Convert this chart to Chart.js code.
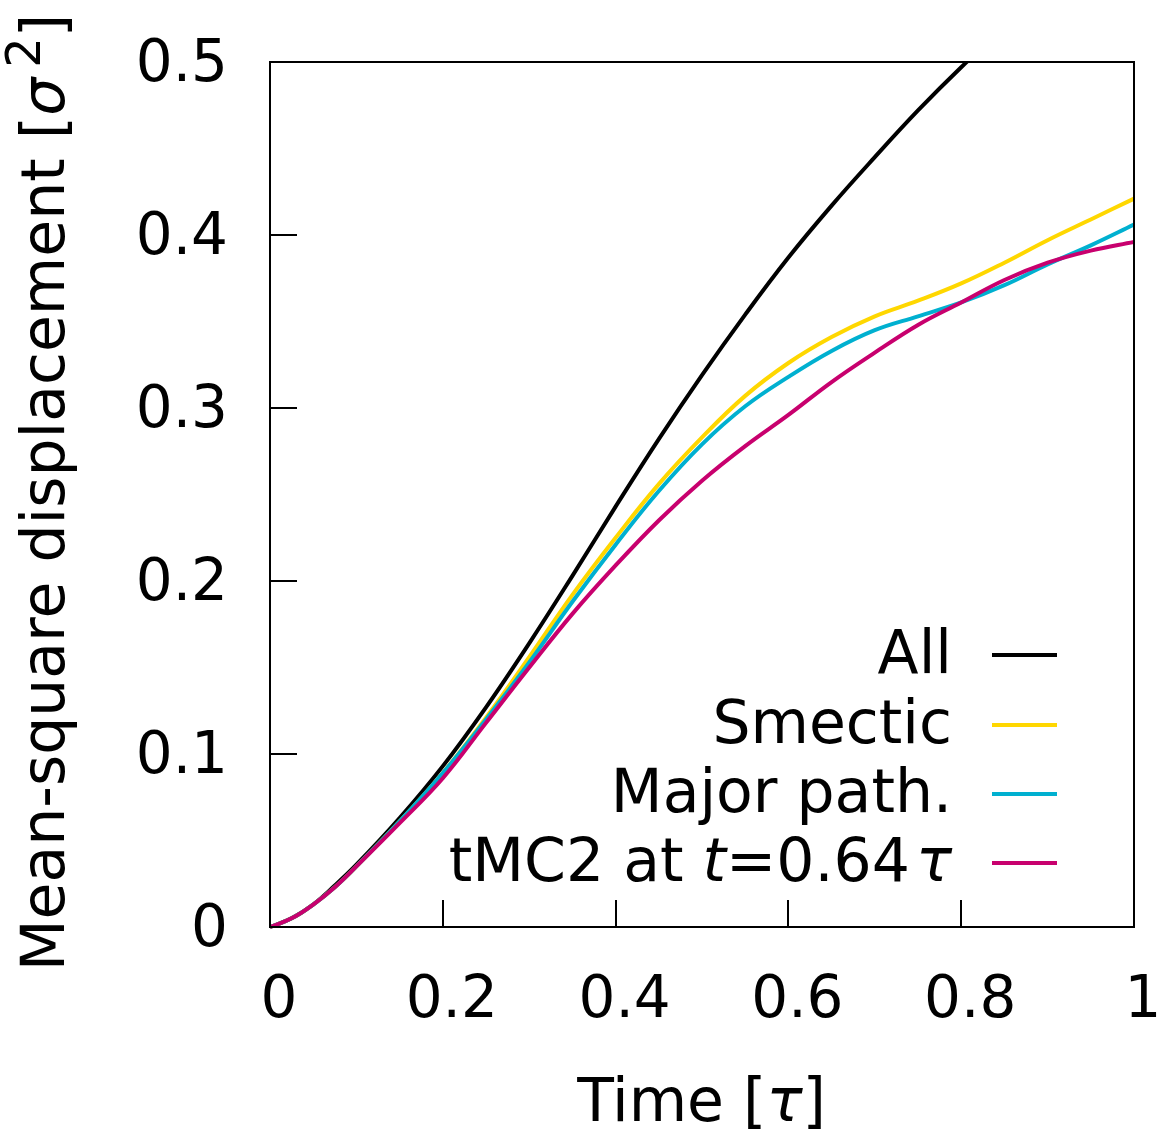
<!DOCTYPE html>
<html>
<head>
<meta charset="utf-8">
<script src="https://cdn.jsdelivr.net/npm/chart.js@4.4.0/dist/chart.umd.min.js"></script>
<style>
html, body { margin: 0; padding: 0; background: #fff; }
</style>
</head>
<body>
<canvas id="chartContainer" width="1162" height="1133"></canvas>
<script>
// time in units of tau
const times = [0, 0.025, 0.05, 0.075, 0.1, 0.15, 0.2, 0.25, 0.3, 0.35, 0.4, 0.45, 0.5,
    0.55, 0.6, 0.65, 0.7, 0.75, 0.8, 0.85, 0.9, 0.95, 1];

// mean-square displacement, sigma^2
const msdAll     = [0, 0.005, 0.013, 0.024, 0.036, 0.063, 0.093, 0.127, 0.164, 0.203, 0.243, 0.282, 0.319,
    0.354, 0.387, 0.417, 0.445, 0.472, 0.497, 0.52, 0.542, 0.562, 0.58];
const msdSmectic = [0, 0.005, 0.013, 0.023, 0.035, 0.061, 0.089, 0.121, 0.156, 0.192, 0.225, 0.256, 0.283,
    0.307, 0.326, 0.341, 0.353, 0.362, 0.372, 0.384, 0.397, 0.409, 0.421];
const msdMajor   = [0, 0.005, 0.013, 0.023, 0.035, 0.061, 0.089, 0.120, 0.153, 0.188, 0.221, 0.252, 0.279,
    0.301, 0.318, 0.333, 0.345, 0.353, 0.361, 0.371, 0.383, 0.394, 0.406];
const msdTmc2    = [0, 0.005, 0.013, 0.023, 0.035, 0.060, 0.086, 0.118, 0.150, 0.181, 0.209, 0.235, 0.258,
    0.278, 0.296, 0.315, 0.332, 0.348, 0.361, 0.374, 0.384, 0.391, 0.396];

const xTicks = [0, 0.2, 0.4, 0.6, 0.8, 1];
const yTicks = [0, 0.1, 0.2, 0.3, 0.4, 0.5];

const FONT = '"DejaVu Sans", sans-serif';
const FS = 60;      // titles and legend
const TICK_FS = 58;

// legend text pieces, [text, italic]
const legendLabels = [
    [['All', false]],
    [['Smectic', false]],
    [['Major path.', false]],
    [['tMC2 at ', false], ['t', true], ['=0.64', false], ['\u200a', false], ['\u03c4', true]]
];

function pts(ys) {
    return times.map((t, i) => ({ x: t, y: ys[i] }));
}

function fmt(v) {
    return String(Number(v.toFixed(2)));
}

function drawPieces(ctx, pieces, xRight, y) {
    let widths = pieces.map(p => {
        ctx.font = (p[1] ? 'italic ' : '') + FS + 'px ' + FONT;
        return ctx.measureText(p[0]).width;
    });
    let x = xRight - widths.reduce((a, b) => a + b, 0);
    pieces.forEach((p, i) => {
        ctx.font = (p[1] ? 'italic ' : '') + FS + 'px ' + FONT;
        ctx.fillText(p[0], x, y);
        x += widths[i];
    });
}

const framePlugin = {
    id: 'frame',
    afterDraw(chart) {
        const ctx = chart.ctx;
        const a = chart.chartArea;
        const xs = chart.scales.x, ys = chart.scales.y;
        ctx.save();
        ctx.strokeStyle = '#000';
        ctx.lineWidth = 2;
        ctx.strokeRect(a.left, a.top, a.right - a.left, a.bottom - a.top);
        // inward ticks, left and bottom only
        ctx.beginPath();
        yTicks.forEach(v => {
            const py = Math.round(ys.getPixelForValue(v));
            ctx.moveTo(a.left, py);
            ctx.lineTo(a.left + 27, py);
        });
        xTicks.forEach(v => {
            const px = Math.round(xs.getPixelForValue(v));
            ctx.moveTo(px, a.bottom);
            ctx.lineTo(px, a.bottom - 27);
        });
        ctx.stroke();

        // axis titles
        ctx.fillStyle = '#000';
        ctx.textBaseline = 'middle';
        drawPieces(ctx, [['Time [', false], ['\u03c4', true], [']', false]],
            (a.left + a.right) / 2 + 124, 1105);

        ctx.save();
        ctx.translate(48, (a.top + a.bottom) / 2 - 2);
        ctx.rotate(-Math.PI / 2);
        const t1 = 'Mean-square displacement [';
        ctx.font = 'italic ' + FS + 'px ' + FONT;
        const wS = ctx.measureText('\u03c3').width;
        ctx.font = Math.round(FS * 0.8) + 'px ' + FONT;
        const w2 = ctx.measureText('2').width;
        ctx.font = FS + 'px ' + FONT;
        const w1 = ctx.measureText(t1).width;
        const wB = ctx.measureText(']').width;
        const total = w1 + wS + 10 + w2 + wB;
        let x = -total / 2;
        ctx.fillText(t1, x, 0); x += w1;
        ctx.font = 'italic ' + FS + 'px ' + FONT;
        ctx.fillText('\u03c3', x, 0); x += wS + 10;
        ctx.font = Math.round(FS * 0.8) + 'px ' + FONT;
        ctx.fillText('2', x, -20); x += w2;
        ctx.font = FS + 'px ' + FONT;
        ctx.fillText(']', x, 0);
        ctx.restore();

        // legend, text right aligned with the sample on the right
        const textRight = 952;
        const rowY = [657, 727, 796, 865];
        chart.data.datasets.forEach((ds, i) => {
            ctx.fillStyle = '#000';
            drawPieces(ctx, legendLabels[i], textRight, rowY[i]);
            ctx.strokeStyle = ds.borderColor;
            ctx.lineWidth = 4;
            ctx.beginPath();
            ctx.moveTo(992, rowY[i] - 2);
            ctx.lineTo(1057, rowY[i] - 2);
            ctx.stroke();
        });
        ctx.restore();
    }
};

const ctx = document.getElementById('chartContainer').getContext('2d');

const lineStyle = {
    borderWidth: 4,
    pointRadius: 0,
    fill: false,
    tension: 0.4,
    clip: { left: 6, bottom: 6, top: 0, right: 0 }
};

new Chart(ctx, {
    type: 'line',
    data: {
        datasets: [
            Object.assign({ label: 'All', data: pts(msdAll), borderColor: '#000000', order: 4 }, lineStyle),
            Object.assign({ label: 'Smectic', data: pts(msdSmectic), borderColor: '#ffd700', order: 3 }, lineStyle),
            Object.assign({ label: 'Major path.', data: pts(msdMajor), borderColor: '#00b0d0', order: 2 }, lineStyle),
            Object.assign({ label: 'tMC2 at t=0.64τ', data: pts(msdTmc2), borderColor: '#c8006e', order: 1 }, lineStyle)
        ]
    },
    options: {
        responsive: false,
        animation: false,
        devicePixelRatio: 1,
        layout: { padding: { top: 62, right: 28, left: 0, bottom: 0 } },
        plugins: {
            legend: { display: false },
            tooltip: { enabled: false }
        },
        scales: {
            x: {
                type: 'linear',
                min: 0,
                max: 1,
                grid: { display: false, drawTicks: false },
                border: { display: false },
                afterBuildTicks: s => { s.ticks = xTicks.map(v => ({ value: v })); },
                afterFit: s => { s.height = 206; s.paddingLeft = 0; s.paddingRight = 0; },
                ticks: {
                    color: '#000',
                    padding: 40,
                    labelOffset: 9,
                    maxRotation: 0,
                    font: { family: FONT, size: TICK_FS },
                    callback: v => fmt(v)
                }
            },
            y: {
                type: 'linear',
                min: 0,
                max: 0.5,
                grid: { display: false, drawTicks: false },
                border: { display: false },
                afterBuildTicks: s => { s.ticks = yTicks.map(v => ({ value: v })); },
                afterFit: s => { s.width = 270; s.paddingTop = 0; s.paddingBottom = 0; },
                ticks: {
                    color: '#000',
                    padding: 42,
                    labelOffset: 4,
                    font: { family: FONT, size: TICK_FS },
                    callback: v => fmt(v)
                }
            }
        }
    },
    plugins: [framePlugin]
});
</script>
</body>
</html>
